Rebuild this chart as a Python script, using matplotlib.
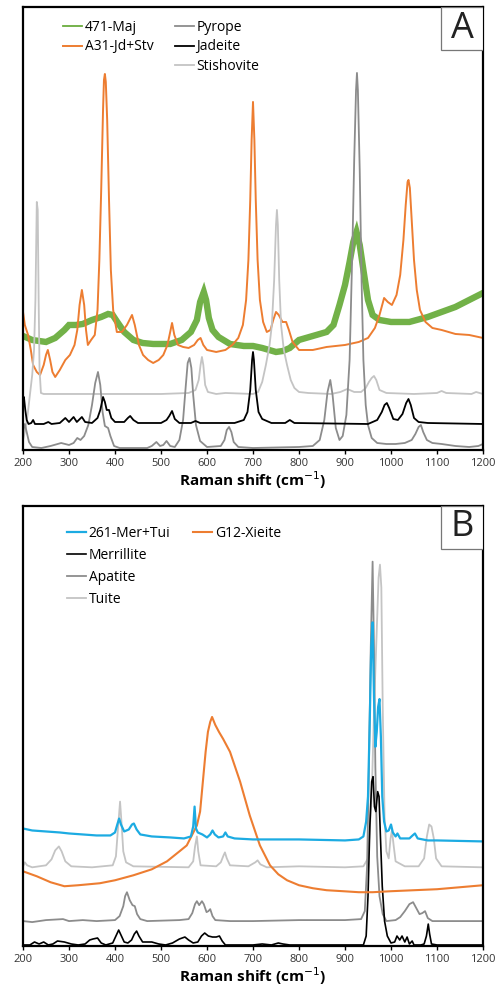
import numpy as np
import matplotlib
matplotlib.use('Agg')
import matplotlib.pyplot as plt
from matplotlib.patches import Rectangle
from matplotlib.lines import Line2D

plt.rcParams['font.family'] = ['Open Sans', 'DejaVu Sans']

# ---------- panel A data (Raman shift, intensity arb. units) ----------
maj_x = [200, 220, 250, 270, 290, 300, 315, 330, 350, 370, 385, 395, 405, 420, 440, 460, 483, 520, 545,
         565, 578, 585, 593, 598, 604, 612, 625, 650, 680, 700, 720, 735, 750, 765, 780, 800, 830, 860,
         875, 888, 900, 910, 918, 925, 932, 940, 950, 960, 975, 1000, 1040, 1080, 1110, 1140, 1170, 1200]
maj_y = [114, 110, 108, 112, 120, 125, 125, 126, 130, 133, 136, 135, 128, 118, 110, 107, 106, 106, 110,
         118, 130, 148, 158, 150, 132, 120, 113, 106, 104, 104, 102, 100, 98, 99, 102, 110, 114, 118,
         125, 145, 165, 188, 208, 218, 205, 180, 150, 135, 130, 128, 128, 133, 138, 143, 150, 157]

jdstv_x = [200, 204, 211, 217, 222, 230, 237, 245, 250, 254, 259, 264, 270, 280, 292, 302, 312, 318, 323,
           328, 333, 337, 341, 348, 356, 362, 366, 370, 374, 376, 378, 380, 383, 387, 391, 396, 404, 415,
           426, 437, 443, 452, 461, 472, 483, 495, 505, 514, 520, 524, 529, 537, 548, 560, 572, 580, 586,
           592, 600, 620, 640, 655, 668, 678, 685, 690, 694, 697, 700, 703, 706, 710, 715, 722, 730, 738,
           744, 750, 756, 764, 772, 778, 786, 800, 830, 860, 900, 930, 950, 965, 975, 985, 993, 1002,
           1012, 1020, 1027, 1032, 1036, 1038, 1041, 1045, 1050, 1056, 1063, 1075, 1090, 1110, 1140,
           1170, 1200]
jdstv_y = [138, 125, 115, 100, 85, 78, 75, 85, 95, 100, 90, 78, 73, 80, 90, 95, 105, 120, 145,
           160, 145, 120, 105, 110, 115, 140, 190, 260, 340, 370, 376, 368, 330, 250, 180, 140, 118, 118,
           125, 135, 125, 105, 95, 90, 87, 90, 95, 105, 118, 127, 115, 105, 103, 102, 105, 110, 112,
           105, 100, 98, 100, 105, 112, 125, 150, 190, 250, 310, 348, 310, 250, 190, 150, 128, 118, 120,
           130, 138, 135, 128, 128, 120, 108, 100, 100, 103, 105, 108, 112, 122, 135, 152, 148, 145,
           155, 175, 210, 245, 268, 270, 262, 230, 190, 160, 140, 128, 122, 120, 116,
           115, 112]

pyrope_x = [200, 204, 208, 213, 220, 240, 260, 283, 300, 310, 318, 325, 333, 342, 350, 357, 363, 368, 373,
            378, 385, 390, 398, 410, 470, 480, 490, 498, 505, 512, 520, 530, 540, 548, 554, 558, 562, 566,
            570, 576, 585, 600, 630, 638, 643, 648, 653, 658, 668, 700, 800, 830, 845, 855, 862, 868, 873,
            880, 888, 895, 903, 910, 916, 920, 924, 926, 928, 932, 936, 940, 945, 950, 958, 970, 990, 1010,
            1030, 1045, 1053, 1060, 1065, 1070, 1078, 1090, 1110, 1140, 1170, 1190, 1200]
pyrope_y = [18, 26, 18, 8, 3, 2, 4, 7, 5, 7, 12, 10, 14, 25, 45, 67, 78, 65, 38,
            24, 22, 14, 4, 2, 2, 4, 8, 4, 5, 9, 4, 3, 10, 30, 65, 87, 92, 82,
            55, 25, 9, 3, 4, 10, 20, 23, 18, 8, 3, 2, 3, 4, 10, 30, 58, 70, 55,
            22, 10, 14, 35, 90, 200, 290, 360, 377, 360, 280, 170, 90, 45, 25, 12, 7, 6, 6,
            7, 10, 16, 23, 25, 18, 10, 7, 6, 4, 3, 4, 6]

jadeite_x = [200, 202, 205, 208, 212, 218, 222, 226, 245, 255, 262, 280, 292, 300, 310, 317, 328, 335, 350,
             362, 368, 374, 378, 382, 387, 392, 400, 420, 428, 433, 440, 450, 500, 512, 518, 524, 530, 540,
             565, 575, 585, 660, 680, 688, 694, 698, 700, 702, 706, 712, 720, 740, 770, 780, 790, 950, 970,
             980, 986, 991, 996, 1005, 1015, 1025, 1033, 1038, 1043, 1050, 1060, 1080, 1200]
jadeite_y = [50, 53, 40, 30, 26, 27, 30, 26, 26, 28, 26, 27, 32, 28, 33, 28, 33, 28, 27,
             32, 40, 53, 48, 40, 40, 32, 28, 28, 32, 34, 30, 27, 27, 30, 34, 39, 31, 27,
             27, 29, 27, 27, 30, 38, 60, 90, 98, 90, 60, 38, 31, 27, 27, 30, 27, 26, 30,
             38, 45, 47, 42, 31, 30, 36, 47, 51, 45, 32, 28, 27, 26]

stish_x = [200, 205, 210, 215, 220, 224, 227, 230, 232, 234, 236, 239, 245, 300, 400, 500, 560, 575, 582,
           586, 589, 592, 596, 602, 620, 640, 700, 711, 720, 728, 736, 741, 746, 750, 752, 754, 757, 761,
           767, 774, 782, 790, 800, 820, 870, 890, 905, 920, 935, 945, 952, 958, 963, 968, 975, 990, 1050,
           1100, 1110, 1120, 1175, 1185, 1200]
stish_y = [10, 20, 35, 55, 75, 100, 150, 248, 240, 150, 80, 57, 56, 56, 56, 56, 57, 60, 70,
           85, 93, 85, 65, 58, 56, 57, 56, 58, 68, 85, 105, 125, 170, 225, 240, 225, 170, 125,
           100, 85, 70, 62, 58, 57, 56, 58, 61, 58, 58, 62, 68, 72, 74, 70, 60, 57, 56,
           57, 59, 57, 56, 58, 56]

# ---------- panel B data ----------
mertui_x = [200, 220, 250, 280, 300, 330, 360, 390, 400, 405, 409, 413, 420, 430, 437, 441, 447, 455, 480,
            520, 550, 565, 570, 573, 576, 580, 590, 600, 607, 612, 617, 625, 635, 640, 645, 660, 700, 800,
            900, 930, 940, 946, 950, 954, 957, 960, 963, 966, 969, 972, 975, 978, 981, 985, 990, 995, 1000,
            1004, 1010, 1014, 1020, 1040, 1047, 1052, 1058, 1080, 1100, 1200]
mertui_y = [118, 116, 115, 114, 113, 112, 111, 111, 114, 122, 128, 122, 115, 117, 122, 123, 117, 112, 110,
            109, 108, 110, 120, 140, 118, 114, 112, 109, 112, 116, 112, 109, 110, 114, 110, 108, 107, 107,
            106, 107, 110, 125, 150, 230, 300, 325, 250, 200, 215, 240, 248, 210, 150, 125, 115, 116, 122,
            114, 110, 113, 108, 108, 111, 113, 108, 106, 106, 105]

xieite_x = [200, 230, 260, 290, 320, 367, 400, 440, 480, 513, 540, 556, 578, 585, 591, 597, 602, 607, 611,
            618, 626, 635, 650, 672, 693, 715, 737, 755, 774, 800, 830, 860, 896, 930, 960, 1000, 1050,
            1100, 1150, 1200]
xieite_y = [75, 70, 64, 60, 61, 63, 66, 71, 77, 85, 95, 101, 121, 135, 165, 195, 215, 225, 230,
            222, 215, 208, 195, 165, 131, 101, 81, 72, 66, 61, 58, 56, 55, 54, 54, 55, 56,
            57, 59, 61]

merr_x = [200, 215, 225, 235, 245, 255, 265, 275, 290, 305, 320, 335, 345, 352, 362, 370, 380, 395, 402,
          408, 414, 420, 428, 436, 442, 447, 452, 460, 480, 495, 510, 525, 540, 552, 560, 570, 580, 588,
          595, 603, 612, 620, 627, 633, 640, 700, 720, 740, 755, 765, 780, 940, 946, 950, 954, 958, 961,
          964, 967, 971, 974, 977, 981, 986, 992, 1000, 1008, 1013, 1019, 1024, 1030, 1035, 1040, 1046,
          1050, 1065, 1072, 1077, 1081, 1084, 1088, 1100, 1200]
merr_y = [1, 1, 4, 2, 4, 1, 2, 5, 4, 2, 1, 2, 6, 7, 8, 3, 1, 3, 10,
          16, 10, 4, 3, 6, 12, 15, 10, 4, 4, 2, 1, 3, 7, 9, 6, 3, 4, 10,
          13, 10, 9, 9, 10, 5, 1, 1, 2, 1, 3, 2, 1, 1, 10, 50, 120, 165, 170,
          140, 135, 155, 150, 110, 60, 25, 10, 3, 4, 10, 6, 10, 4, 9, 2, 5,
          1, 1, 2, 10, 22, 12, 2, 1, 1]

apatite_x = [200, 220, 250, 287, 300, 330, 360, 400, 410, 418, 422, 426, 432, 438, 443, 448, 455, 470, 540,
             560, 568, 574, 578, 583, 589, 593, 599, 603, 607, 612, 618, 650, 700, 800, 900, 935, 943, 948,
             952, 956, 960, 963, 966, 970, 975, 982, 990, 1010, 1020, 1030, 1040, 1048, 1055, 1062, 1068,
             1074, 1080, 1090, 1200]
apatite_y = [25, 24, 26, 27, 25, 26, 25, 26, 30, 40, 50, 54, 46, 41, 40, 32, 27, 25, 26,
             27, 33, 42, 45, 41, 45, 42, 34, 35, 37, 30, 26, 25, 25, 26, 26, 27, 35, 80,
             180, 300, 386, 300, 180, 90, 50, 32, 25, 26, 29, 35, 42, 44, 38, 32, 33,
             35, 28, 25, 25]

tuite_x = [200, 204, 209, 220, 250, 262, 270, 278, 284, 292, 305, 350, 395, 402, 406, 411, 414, 418, 424,
           440, 560, 570, 574, 578, 581, 586, 620, 630, 636, 639, 643, 650, 690, 705, 710, 716, 730, 800,
           900, 940, 950, 958, 964, 970, 973, 976, 979, 982, 986, 990, 995, 999, 1002, 1006, 1010, 1030,
           1060, 1072, 1078, 1083, 1088, 1093, 1098, 1110, 1200]
tuite_y = [80, 84, 81, 79, 81, 87, 96, 100, 95, 85, 80, 79, 81, 90, 115, 145, 125, 95, 84,
           80, 79, 85, 100, 110, 95, 81, 80, 84, 91, 94, 88, 81, 80, 84, 86, 82, 79, 80,
           79, 80, 88, 150, 250, 330, 370, 383, 360, 240, 130, 95, 88, 108, 116, 100, 85, 80,
           80, 88, 110, 122, 120, 108, 88, 80, 79]

xticks = [200, 300, 400, 500, 600, 700, 800, 900, 1000, 1100, 1200]

green = '#6AAD3E'
orange = '#ED7D31'
blue = '#1CABE2'
black = '#000000'
gray = '#8C8C8C'
lgray = '#C4C4C4'


def style_axes(ax, letter):
    ax.set_xlim(200, 1200)
    ax.set_yticks([])
    ax.set_xticks(xticks)
    ax.tick_params(axis='x', direction='out', length=3, width=1, labelsize=8,
                   labelcolor='#333333', pad=3)
    for s in ax.spines.values():
        s.set_linewidth(1.6)
        s.set_color('black')
    ax.set_xlabel('Raman shift (cm$^{-1}$)', fontsize=11, fontweight='bold', labelpad=0)
    ax.add_patch(Rectangle((0.909, 0.903), 0.091, 0.097, transform=ax.transAxes,
                           facecolor='white', edgecolor='#777777', linewidth=0.9, zorder=10))
    ax.text(0.955, 0.951, letter, transform=ax.transAxes, ha='center', va='center',
            fontsize=26, color='#222222', zorder=11)


fig = plt.figure(figsize=(5, 9.89), dpi=100)
axA = fig.add_axes([0.046, 0.545, 0.92, 0.448])
axB = fig.add_axes([0.046, 0.0435, 0.92, 0.445])

# panel A
axA.plot(maj_x, maj_y, color=green, lw=4.6, alpha=0.95, solid_joinstyle='miter')
lA1 = Line2D([], [], color=green, lw=1.3, label='471-Maj')
lA2 = axA.plot(jdstv_x, jdstv_y, color=orange, lw=1.4, label='A31-Jd+Stv')[0]
lA5 = axA.plot(stish_x, stish_y, color=lgray, lw=1.3, label='Stishovite')[0]
lA3 = axA.plot(pyrope_x, pyrope_y, color=gray, lw=1.3, label='Pyrope')[0]
lA4 = axA.plot(jadeite_x, jadeite_y, color=black, lw=1.3, label='Jadeite')[0]
axA.set_ylim(0, 443)
style_axes(axA, 'A')

legkw = dict(frameon=False, fontsize=10, handlelength=1.35, handletextpad=0.2,
             labelspacing=0.3, borderpad=0, borderaxespad=0, loc='upper left')
leg1 = axA.legend(handles=[lA1, lA2], bbox_to_anchor=(0.087, 0.97), **legkw)
axA.add_artist(leg1)
axA.legend(handles=[lA3, lA4, lA5], bbox_to_anchor=(0.330, 0.97), **legkw)

# panel B
lB5 = axB.plot(tuite_x, tuite_y, color=lgray, lw=1.3, label='Tuite')[0]
lB4 = axB.plot(apatite_x, apatite_y, color=gray, lw=1.3, label='Apatite')[0]
lB3 = axB.plot(merr_x, merr_y, color=black, lw=1.2, label='Merrillite')[0]
lB2 = axB.plot(xieite_x, xieite_y, color=orange, lw=1.5, label='G12-Xieite')[0]
lB1 = axB.plot(mertui_x, mertui_y, color=blue, lw=1.6, label='261-Mer+Tui')[0]
axB.set_ylim(0, 442)
style_axes(axB, 'B')

legkwB = dict(legkw)
legkwB['labelspacing'] = 0.5
leg2 = axB.legend(handles=[lB1, lB3, lB4, lB5], bbox_to_anchor=(0.096, 0.955), **legkwB)
axB.add_artist(leg2)
axB.legend(handles=[lB2], bbox_to_anchor=(0.37, 0.955), **legkwB)

fig.savefig('out.png', dpi=100)
